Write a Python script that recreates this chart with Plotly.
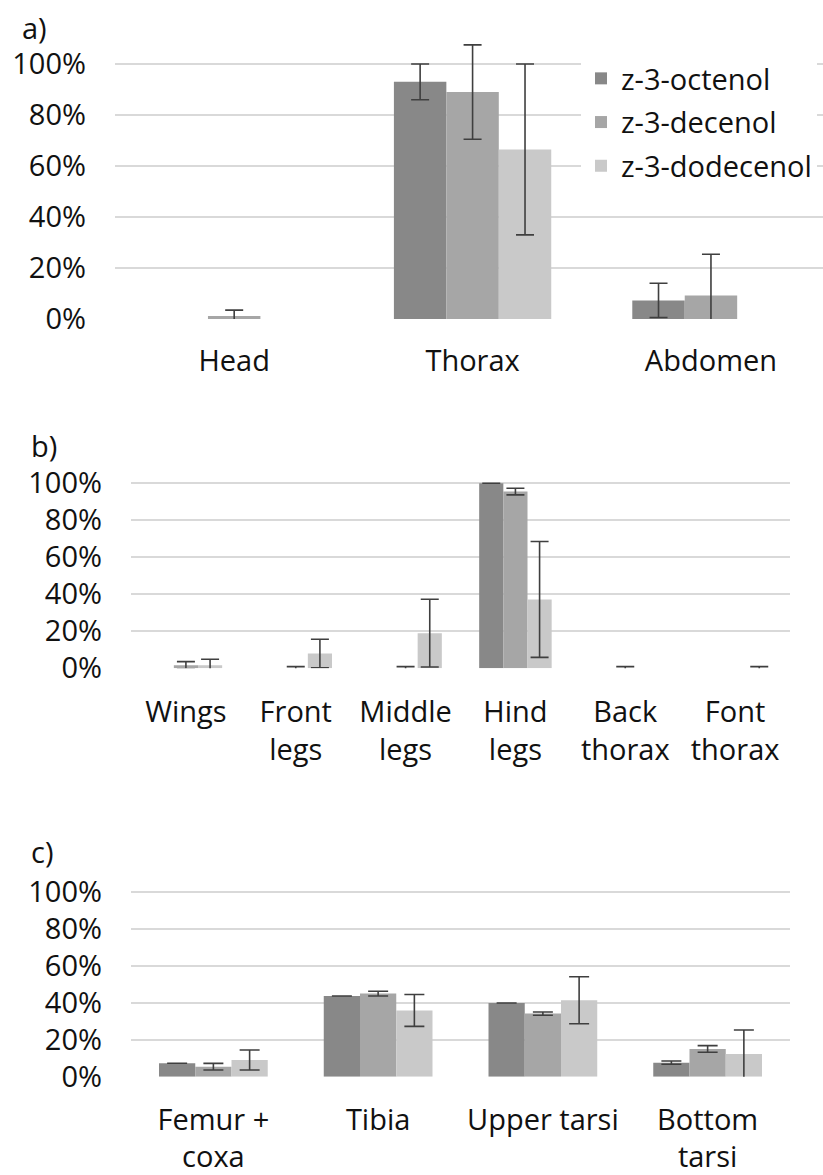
import plotly.graph_objects as go

# ---------------- data ----------------
series = ["z-3-octenol", "z-3-decenol", "z-3-dodecenol"]
colors = ["#888888", "#a6a6a6", "#c9c9c9"]

# panel a
cats_a = ["Head", "Thorax", "Abdomen"]
oct_a = [0.0, 0.93, 0.073]
oct_a_err = [None, 0.07, 0.067]
dec_a = [0.012, 0.89, 0.092]
dec_a_err = [0.023, 0.185, 0.162]
dod_a = [0.0, 0.665, 0.0]
dod_a_err = [None, 0.335, None]

# panel b
cats_b = ["Wings", "Front<br>legs", "Middle<br>legs", "Hind<br>legs", "Back<br>thorax", "Font<br>thorax"]
oct_b = [0.0, 0.0, 0.0, 1.0, 0.0, 0.0]
oct_b_err = [None, None, None, 0.0, None, None]
dec_b = [0.016, 0.0, 0.0, 0.955, 0.0, 0.0]
dec_b_err = [0.02, 0.009, 0.009, 0.018, 0.009, None]
dod_b = [0.016, 0.08, 0.19, 0.372, 0.0, 0.0]
dod_b_err = [0.033, 0.077, 0.183, 0.313, None, 0.009]

# panel c
cats_c = ["Femur +<br>coxa", "Tibia", "Upper tarsi", "Bottom<br>tarsi"]
oct_c = [0.073, 0.436, 0.398, 0.076]
oct_c_err = [0.0, 0.0, 0.0, 0.009]
dec_c = [0.054, 0.449, 0.341, 0.15]
dec_c_err = [0.018, 0.013, 0.009, 0.018]
dod_c = [0.09, 0.358, 0.413, 0.123]
dod_c_err = [0.054, 0.086, 0.127, 0.129]

y_ticks = [0, 0.2, 0.4, 0.6, 0.8, 1.0]

FONT = "Open Sans"
FS = 29
TXT = "#111111"
ERR_COLOR = "#3f3f3f"

panels = [
    ("x", "y", cats_a, [(oct_a, oct_a_err), (dec_a, dec_a_err), (dod_a, dod_a_err)], True, 9),
    ("x2", "y2", cats_b, [(oct_b, oct_b_err), (dec_b, dec_b_err), (dod_b, dod_b_err)], False, 9),
    ("x3", "y3", cats_c, [(oct_c, oct_c_err), (dec_c, dec_c_err), (dod_c, dod_c_err)], False, 10),
]

fig = go.Figure()
for xa, ya, cats, data, show_leg, capw in panels:
    for i, (vals, errs) in enumerate(data):
        xs, ys, es = [], [], []
        for c, v, e in zip(cats, vals, errs):
            xs.append(c)
            if v == 0 and e is None:
                ys.append(None); es.append(None)
            else:
                ys.append(v); es.append(e if e is not None else 0.0)
        fig.add_trace(go.Bar(
            x=xs, y=ys, name=series[i], legendgroup=series[i],
            showlegend=show_leg, xaxis=xa, yaxis=ya,
            marker=dict(color=colors[i], line=dict(width=0)),
            error_y=dict(type="data", array=es, visible=True, color=ERR_COLOR,
                         thickness=1.6, width=capw),
            hoverinfo="skip",
        ))

W, H = 823, 1175

def ydom(zero_px, top_px):
    return [(H - zero_px) / H, (H - top_px) / H]

yaxis_common = dict(
    tickvals=y_ticks, tickformat=".0%", showgrid=True, gridcolor="#d9d9d9",
    gridwidth=1.6, zeroline=False, showline=False, ticks="",
    tickfont=dict(family=FONT, size=FS, color=TXT), ticklabelstandoff=28,
    fixedrange=True, automargin=False,
)
xaxis_common = dict(
    type="category", showgrid=False, zeroline=False, showline=False, ticks="",
    tickfont=dict(family=FONT, size=FS, color=TXT),
    fixedrange=True, automargin=False,
)

fig.update_layout(
    width=W, height=H, autosize=False,
    margin=dict(l=0, r=0, t=0, b=0, pad=0, autoexpand=False),
    paper_bgcolor="white", plot_bgcolor="white",
    barmode="group", bargap=0.34, bargroupgap=0.0,
    font=dict(family=FONT, size=FS, color=TXT),
    xaxis=dict(**xaxis_common, domain=[115 / W, 1.0], range=[-0.5, 2.47], anchor="y",
               ticklabelstandoff=22),
    yaxis=dict(**yaxis_common, domain=ydom(319, 38.5), range=[0, 1.1], anchor="x"),
    xaxis2=dict(**xaxis_common, domain=[131 / W, 790 / W], range=[-0.5, 5.5], anchor="y2",
                ticklabelstandoff=24),
    yaxis2=dict(**yaxis_common, domain=ydom(668.3, 477.7), range=[0, 1.03], anchor="x2"),
    xaxis3=dict(**xaxis_common, domain=[131 / W, 790 / W], range=[-0.5, 3.5], anchor="y3",
                ticklabelstandoff=23),
    yaxis3=dict(**yaxis_common, domain=ydom(1076.7, 886.1), range=[0, 1.03], anchor="x3"),
    legend=dict(
        x=581 / W, xanchor="left", y=1 - 53 / H, yanchor="top",
        bgcolor="white", borderwidth=0, tracegroupgap=3,
        font=dict(family=FONT, size=29, color=TXT),
    ),
    annotations=[
        dict(text="a)", x=20 / W, y=1 - 27 / H, xref="paper", yref="paper",
             xanchor="left", yanchor="middle", showarrow=False,
             font=dict(family=FONT, size=FS, color=TXT)),
        dict(text="b)", x=29 / W, y=1 - 446 / H, xref="paper", yref="paper",
             xanchor="left", yanchor="middle", showarrow=False,
             font=dict(family=FONT, size=FS, color=TXT)),
        dict(text="c)", x=29 / W, y=1 - 851 / H, xref="paper", yref="paper",
             xanchor="left", yanchor="middle", showarrow=False,
             font=dict(family=FONT, size=FS, color=TXT)),
    ],
)

fig.write_html(
    "out.html",
    config={"displayModeBar": False, "staticPlot": False},
    post_script="document.body.style.margin='0';document.body.style.overflow='hidden';",
)
